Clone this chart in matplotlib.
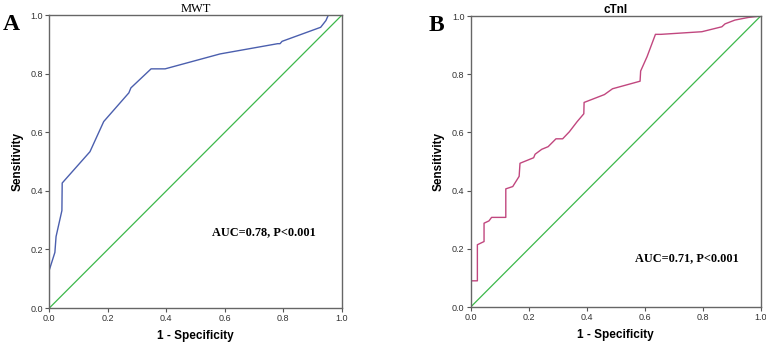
import matplotlib
matplotlib.use("Agg")
import matplotlib.pyplot as plt

# MWT ROC curve
mwt_fpr = [0.0, 0.0, 0.019, 0.023, 0.043, 0.044, 0.139, 0.186, 0.272, 0.279, 0.348,
           0.396, 0.584, 0.781, 0.789, 0.796, 0.928, 0.946, 0.954, 1.0]
mwt_tpr = [0.0, 0.13, 0.19, 0.244, 0.333, 0.427, 0.534, 0.637, 0.735, 0.752, 0.817,
           0.817, 0.868, 0.903, 0.903, 0.911, 0.959, 0.982, 1.0, 1.0]

# cTnI ROC curve
ctni_fpr = [0.0, 0.0, 0.023, 0.023, 0.046, 0.046, 0.063, 0.072, 0.121, 0.121, 0.145,
            0.167, 0.170, 0.217, 0.222, 0.245, 0.267, 0.294, 0.317, 0.340, 0.367,
            0.390, 0.391, 0.461, 0.489, 0.584, 0.586, 0.608, 0.637, 0.656, 0.797,
            0.866, 0.877, 0.911, 0.957, 1.0]
ctni_tpr = [0.0, 0.09, 0.09, 0.214, 0.225, 0.288, 0.296, 0.308, 0.308, 0.406, 0.414,
            0.449, 0.494, 0.513, 0.525, 0.542, 0.551, 0.578, 0.578, 0.602, 0.637,
            0.664, 0.703, 0.730, 0.750, 0.776, 0.811, 0.860, 0.937, 0.937, 0.946,
            0.963, 0.973, 0.986, 0.995, 1.0]

ref = [0.0, 1.0]
ticks = [0.0, 0.2, 0.4, 0.6, 0.8, 1.0]
tick_labels = ["0.0", "0.2", "0.4", "0.6", "0.8", "1.0"]

panels = [
    dict(rect=[0.0644, 0.1072, 0.3817, 0.8485], fpr=mwt_fpr, tpr=mwt_tpr,
         color="#4b5fae", title="MWT", tfont=dict(family="Liberation Serif", weight="normal", size=9),
         letter="A", letter_x=0.003, letter_y=0.928, auc="AUC=0.78, P<0.001", auc_xy=(0.556, 0.26)),
    dict(rect=[0.6145, 0.1101, 0.3786, 0.8435], fpr=ctni_fpr, tpr=ctni_tpr,
         color="#c1477f", title="cTnI", tfont=dict(family="Liberation Sans", weight="bold", size=8.5),
         letter="B", letter_x=0.560, letter_y=0.925, auc="AUC=0.71, P<0.001", auc_xy=(0.567, 0.168)),
]

fig = plt.figure(figsize=(7.66, 3.45), dpi=100)
for p in panels:
    ax = fig.add_axes(p["rect"])
    ax.plot(ref, ref, color="#3cb84a", lw=0.9)
    ax.plot(p["fpr"], p["tpr"], color=p["color"], lw=1.0)
    ax.set_xlim(0, 1)
    ax.set_ylim(0, 1)
    ax.set_xticks(ticks)
    ax.set_yticks(ticks)
    ax.set_xticklabels(tick_labels, family="Liberation Sans", size=6.5, color="#333333")
    ax.set_yticklabels(tick_labels, family="Liberation Sans", size=6.5, color="#333333")
    ax.tick_params(direction="out", length=3, width=0.8, color="#555555", pad=1.5)
    for s in ax.spines.values():
        s.set_color("#666666")
        s.set_linewidth(1.0)
    ax.set_xlabel("1 - Specificity", family="Liberation Sans", weight="bold", size=8.5, labelpad=5)
    ax.set_ylabel("Sensitivity", family="Liberation Sans", weight="bold", size=8.5, labelpad=5)
    ax.set_title(p["title"], pad=2, **p["tfont"])
    ax.text(p["auc_xy"][0], p["auc_xy"][1], p["auc"], transform=ax.transAxes,
            family="Liberation Serif", weight="bold", size=8.8, va="center", ha="left")
    fig.text(p["letter_x"], p["letter_y"], p["letter"], family="Liberation Serif", weight="bold",
             size=17, va="center", ha="left")

fig.savefig("out.png", dpi=100)
